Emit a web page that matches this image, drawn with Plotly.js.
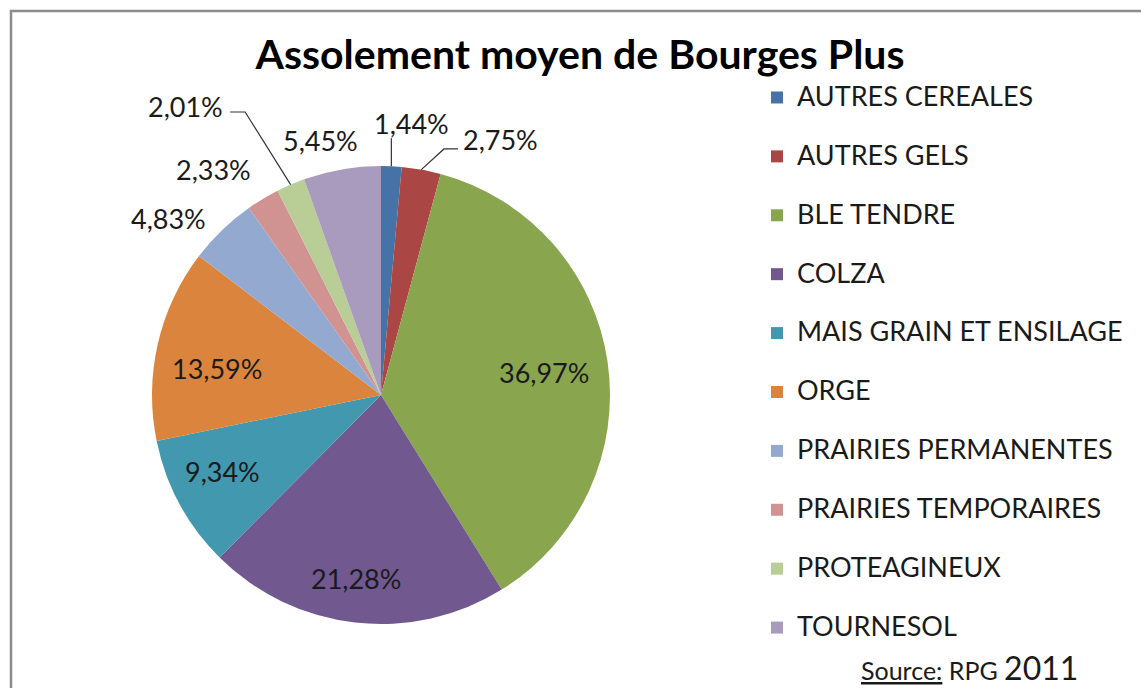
<!DOCTYPE html>
<html>
<head>
<meta charset="utf-8">
<script src="https://cdn.plot.ly/plotly-3.0.1.min.js"></script>
<style>html,body{margin:0;padding:0;background:#fff;}#chart{width:1141px;height:688px;}</style>
</head>
<body>
<div id="chart"></div>
<script>
// ---- data ----
const categories = ["AUTRES CEREALES","AUTRES GELS","BLE TENDRE","COLZA","MAIS GRAIN ET ENSILAGE","ORGE","PRAIRIES PERMANENTES","PRAIRIES TEMPORAIRES","PROTEAGINEUX","TOURNESOL"];
const values = [1.44, 2.75, 36.97, 21.28, 9.34, 13.59, 4.83, 2.33, 2.01, 5.45];
const colors = ["#4572A7","#AA4643","#89A54E","#71588F","#4198AF","#DB843D","#93A9CF","#D19392","#B9CD96","#A99BBD"];

// ---- label placement (pixel offsets from each slice's outer-edge midpoint) ----
const labelOffsets = [[20.6,-43.2],[79.7,-29.6],[-63.5,11.3],[0.9,-44],[42.9,-32.4],[59.2,25.1],[-54,-12],[-49,-29],[-105.5,-77.6],[-21,-28.4]];
const leaderElbows = {0: [[0,-28]], 1: [[22.7,-20.6],[36.7,-20.6]], 8: [[-45.5,-72.6],[-60.5,-72.6]]};

const FONT = "Lato, 'Open Sans', sans-serif";
const W = 1141, H = 688;
const pie = {x0: 152, x1: 610, y0: 166, y1: 624};
const cx = (pie.x0 + pie.x1) / 2, cy = (pie.y0 + pie.y1) / 2, R = (pie.x1 - pie.x0) / 2;

const total = values.reduce((a, b) => a + b, 0);
const fmt = v => v.toFixed(2).replace(".", ",") + "%";
function edgePoint(i) {
  let cum = 0;
  for (let k = 0; k < i; k++) cum += values[k];
  const ang = (cum + values[i] / 2) / total * 2 * Math.PI;
  return [cx + R * Math.sin(ang), cy - R * Math.cos(ang)];
}
const px2paper = (x, y) => [x / W, 1 - y / H];

const annotations = values.map((v, i) => {
  const e = edgePoint(i);
  const p = px2paper(e[0] + labelOffsets[i][0], e[1] + labelOffsets[i][1]);
  return {
    xref: "paper", yref: "paper", x: p[0], y: p[1],
    xanchor: "center", yanchor: "middle", showarrow: false,
    text: fmt(v), font: {family: FONT, size: 27, color: "#1a1a1a"}
  };
});
annotations.push({
  xref: "paper", yref: "paper",
  x: 1080 / W, xanchor: "right",
  y: 1 - 667 / H, yanchor: "middle",
  showarrow: false,
  text: "<u>Source:</u> RPG <span style='font-size:32px'>2011</span>",
  font: {family: FONT, size: 25, color: "#1a1a1a"}
});

const shapes = [{
  type: "rect", xref: "paper", yref: "paper",
  x0: 11 / W, x1: 1.05, y0: -0.05, y1: 1 - 11 / H,
  line: {color: "#8c8c8c", width: 2.5}
}];
Object.keys(leaderElbows).forEach(k => {
  const i = +k, e = edgePoint(i);
  const pts = [e].concat(leaderElbows[k].map(d => [e[0] + d[0], e[1] + d[1]]));
  const path = pts.map((p, j) => {
    const q = px2paper(p[0], p[1]);
    return (j ? "L" : "M") + q[0].toFixed(5) + "," + q[1].toFixed(5);
  }).join(" ");
  shapes.push({type: "path", xref: "paper", yref: "paper", path: path, line: {color: "#333333", width: 1.2}});
});

const trace = {
  type: "pie",
  labels: categories.map(c => "<span style='font-size:27px'>" + c + "</span><br> "),
  values: values,
  sort: false,
  direction: "clockwise",
  rotation: 0,
  marker: {colors: colors, line: {width: 0}},
  textinfo: "none",
  domain: {x: [pie.x0 / W, pie.x1 / W], y: [(H - pie.y1) / H, (H - pie.y0) / H]},
  hoverinfo: "label+percent"
};

const layout = {
  width: W, height: H,
  margin: {l: 0, r: 0, t: 0, b: 0},
  paper_bgcolor: "#ffffff",
  separators: ", ",
  font: {family: FONT, color: "#1a1a1a"},
  title: {
    text: "<b>Assolement moyen de Bourges Plus</b>",
    font: {family: FONT, size: 41, color: "#000"},
    x: 580 / W, xanchor: "center", xref: "paper",
    y: 1 - 55 / H, yanchor: "middle", yref: "paper"
  },
  showlegend: true,
  legend: {
    x: 757 / W, xanchor: "left",
    y: 1 - 77 / H, yanchor: "top",
    font: {family: FONT, size: 21.5, color: "#1a1a1a"},
    valign: "top",
    bgcolor: "rgba(0,0,0,0)"
  },
  shapes: shapes,
  annotations: annotations
};

Plotly.newPlot("chart", [trace], layout, {displayModeBar: false, staticPlot: true});
</script>
</body>
</html>
